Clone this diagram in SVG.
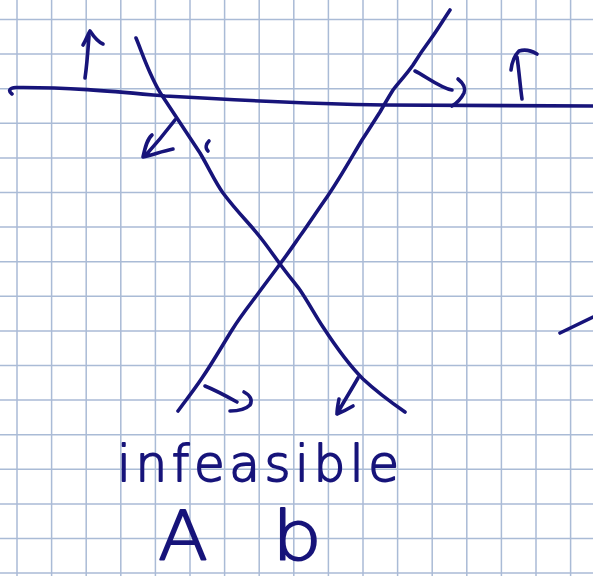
<svg xmlns="http://www.w3.org/2000/svg" width="593" height="576" viewBox="0 0 593 576">
  <style>
    .grid { fill: none; stroke: #aabbd6; stroke-width: 1.5; }
    .ink { fill: none; stroke: #17147a; stroke-width: 3.6; stroke-linecap: round; stroke-linejoin: round; }
    .hand { fill: #17147a; stroke: #17147a; stroke-width: 1.8; stroke-linejoin: round; font-family: "DejaVu Sans", "Liberation Sans", sans-serif; font-weight: 200; }
  </style>
  <rect width="593" height="576" fill="#ffffff"/>
  <g id="grid">
    <path class="grid" d="M17,0V576 M51.6,0V576 M86.2,0V576 M120.8,0V576 M155.4,0V576 M190,0V576 M224.6,0V576 M259.2,0V576 M293.8,0V576 M328.4,0V576 M363,0V576 M397.6,0V576 M432.2,0V576 M466.8,0V576 M501.4,0V576 M536,0V576 M570.6,0V576"/>
    <path class="grid" d="M0,19.5H593 M0,54.1H593 M0,88.7H593 M0,123.3H593 M0,157.9H593 M0,192.5H593 M0,227.1H593 M0,261.7H593 M0,296.3H593 M0,330.9H593 M0,365.5H593 M0,400.1H593 M0,434.7H593 M0,469.3H593 M0,503.9H593 M0,538.5H593 M0,573.1H593"/>
  </g>
  <g id="lines">
    <path id="horizontal" class="ink" d="M12,94 C8,91 9,88 16,87.5 C70,87 120,92 165,96 C250,101 320,104 385,105 L593,106"/>
    <path id="descending" class="ink" d="M136,38 C142,52 150,78 163,97 C178,120 190,138 200,153 C210,170 215,182 223,193 C238,213 250,224 260,237 C268,247 274,256 280,264 C288,275 294,282 300,290 C310,305 315,315 323,327 C338,350 350,366 363,379 C378,393 392,403 405,412"/>
    <path id="ascending" class="ink" d="M450,10 C442,22 436,32 430,40 C424,48 418,57 413,65 C406,75 399,82 393,90 C388,98 384,105 380,112 C373,123 368,131 362,140 C350,160 340,178 327,197 C315,214 306,228 300,236 C293,246 287,255 280,264 C272,275 265,284 257,295 C248,307 240,317 232,330 C222,346 213,362 202,378 C194,390 186,400 178,411"/>
    <path id="stroke-right" class="ink" d="M560,333 L593,317"/>
  </g>
  <g id="arrows">
    <path class="ink" d="M85,78 C87,65 88,50 89,36 M83,45 C86,40 88,34 90,31 C94,37 98,42 103,44"/>
    <path class="ink" d="M175,120 C165,133 155,145 145,156 M152,135 C147,139 145,148 143,157 C152,155 163,151 173,149"/>
    <path class="ink" d="M209,141 C206,144 205,148 208,151"/>
    <path class="ink" d="M415,71 C424,75 440,88 452,90 M458,79 C463,83 466,88 464,93 C461,99 457,103 452,106"/>
    <path class="ink" d="M522,99 C520,85 519,70 517,57 M511,70 C512,62 515,55 519,51 C525,49 532,51 537,54"/>
    <path class="ink" d="M205,386 C215,390 228,397 237,402 M244,392 C250,395 253,400 250,405 C245,410 238,411 230,411"/>
    <path class="ink" d="M358,378 C350,392 343,403 337,414 M339,399 C338,404 337,410 337,414 C342,412 348,409 353,406"/>
  </g>
  <g id="labels">
    <text class="hand" x="117" y="481" font-size="50" textLength="282" lengthAdjust="spacing">infeasible</text>
    <text class="hand" x="158" y="559.5" font-size="68" stroke-width="2.6" textLength="50" lengthAdjust="spacingAndGlyphs">A</text>
    <text class="hand" x="272" y="559.5" font-size="68" stroke-width="2.6" textLength="50" lengthAdjust="spacingAndGlyphs">b</text>
  </g>
</svg>
